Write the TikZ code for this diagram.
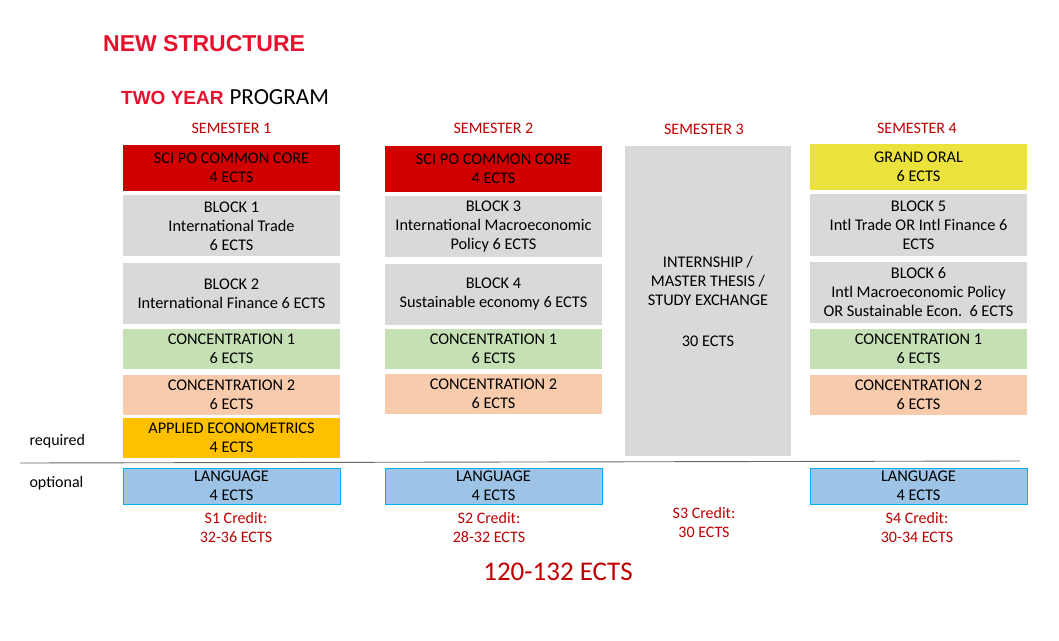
\documentclass[tikz,border=0pt]{standalone}
\usepackage{fontspec}
\setmainfont{Carlito}
\newfontfamily\titelfont{Liberation Sans}
\usetikzlibrary{positioning}
\definecolor{titelrot}{HTML}{E8112D}
\definecolor{semrot}{HTML}{C00000}
\definecolor{kernrot}{HTML}{D00000}
\definecolor{blockgrau}{HTML}{D9D9D9}
\definecolor{konzgruen}{HTML}{C5E0B4}
\definecolor{konzorange}{HTML}{F8CBAD}
\definecolor{oekogelb}{HTML}{FFC000}
\definecolor{oralgelb}{HTML}{EBE33B}
\definecolor{sprachblau}{HTML}{9DC3E6}
\definecolor{sprachrand}{HTML}{00B0F0}
\tikzset{
  kurs/.style={
    rectangle, minimum width=217pt, inner sep=1pt, align=center,
    font=\fontsize{16.3}{19}\selectfont, text=black},
  kern/.style={kurs, fill=kernrot, minimum height=46pt},
  block/.style={kurs, fill=blockgrau, minimum height=61pt},
  konz/.style={kurs, fill=konzgruen, minimum height=40pt},
  konzb/.style={kurs, fill=konzorange, minimum height=40pt},
  sprache/.style={kurs, fill=sprachblau, draw=sprachrand, line width=0.9pt,
    minimum height=36pt},
  semester/.style={font=\fontsize{16}{18}\selectfont, text=semrot},
  kredit/.style={font=\fontsize{16}{19}\selectfont, text=semrot, align=center},
  seite/.style={font=\fontsize{16}{19}\selectfont, anchor=west}
}

\begin{document}
\begin{tikzpicture}[x=1pt, y=-1pt]
\useasboundingbox (0,0) rectangle (1059,640);

% titles
\node[anchor=west, inner sep=0pt, text=titelrot,
      font=\titelfont\bfseries\fontsize{23}{26}\selectfont] (titel) at (103,44)
      {NEW STRUCTURE};
\node[anchor=west, inner sep=0pt] (prog) at (121,97)
      {{\titelfont\bfseries\fontsize{19}{22}\selectfont\textcolor{titelrot}{TWO YEAR}}%
       \hspace{6pt}{\normalfont\fontsize{23}{26}\selectfont PROGRAM}};

% semester headings
\node[semester] (sem1) at (231.5,128) {SEMESTER 1};
\node[semester] (sem2) at (493.5,128) {SEMESTER 2};
\node[semester] (sem3) at (704,129)   {SEMESTER 3};
\node[semester] (sem4) at (917,128)   {SEMESTER 4};

% semester 1
\node[kern] (kern1) at (231.5,168) {SCI PO COMMON CORE\\4 ECTS};
\node[block, below=4pt of kern1] (block1) {BLOCK 1\\International Trade\\6 ECTS};
\node[block, below=6pt of block1] (block2) {BLOCK 2\\International Finance 6 ECTS};
\node[konz, below=5pt of block2] (konzA1) {CONCENTRATION 1\\6 ECTS};
\node[konzb, below=5pt of konzA1] (konzB1) {CONCENTRATION 2\\6 ECTS};
\node[kurs, fill=oekogelb, minimum height=40pt, below=3pt of konzB1] (oeko)
      {APPLIED ECONOMETRICS\\4 ECTS};
\node[sprache] (sprache1) at (231.5,486) {LANGUAGE\\4 ECTS};

% semester 2
\node[kern] (kern2) at (493.5,169) {SCI PO COMMON CORE\\4 ECTS};
\node[block, below=4pt of kern2] (block3)
      {BLOCK 3\\International Macroeconomic\\Policy 6 ECTS};
\node[block, below=6pt of block3] (block4) {BLOCK 4\\Sustainable economy 6 ECTS};
\node[konz, below=4pt of block4] (konzA2) {CONCENTRATION 1\\6 ECTS};
\node[konzb, below=4pt of konzA2] (konzB2) {CONCENTRATION 2\\6 ECTS};
\node[sprache] (sprache2) at (493.5,486) {LANGUAGE\\4 ECTS};

% semester 3
\node[kurs, fill=blockgrau, minimum width=166pt, minimum height=310pt] (praktikum)
      at (708,301) {INTERNSHIP /\\MASTER THESIS /\\STUDY EXCHANGE\\[22pt]30 ECTS};

% semester 4
\node[kurs, fill=oralgelb, minimum height=46pt] (oral) at (918.5,167)
      {GRAND ORAL\\6 ECTS};
\node[block, minimum height=62pt, below=4pt of oral] (block5)
      {BLOCK 5\\Intl Trade OR Intl Finance 6\\ECTS};
\node[block, below=5pt of block5] (block6)
      {BLOCK 6\\Intl Macroeconomic Policy\\OR Sustainable Econ.\ \ 6 ECTS};
\node[konz, below=6pt of block6] (konzA4) {CONCENTRATION 1\\6 ECTS};
\node[konzb, below=5pt of konzA4] (konzB4) {CONCENTRATION 2\\6 ECTS};
\node[sprache] (sprache4) at (918.5,486) {LANGUAGE\\4 ECTS};

% required / optional
\coordinate (trennL) at (20,463);
\coordinate (trennR) at (1020,461);
\draw[gray!80!black, line width=0.9pt] (trennL) -- (trennR);
\node[seite] (pflicht) at (26,441) {required};
\node[seite] (wahl) at (26,483) {optional};

% credits
\node[kredit] (kredit1) at (236,527.5) {S1 Credit:\\32-36 ECTS};
\node[kredit] (kredit2) at (489,527.5) {S2 Credit:\\28-32 ECTS};
\node[kredit] (kredit3) at (704,522.5) {S3 Credit:\\30 ECTS};
\node[kredit] (kredit4) at (917,527.5) {S4 Credit:\\30-34 ECTS};
\node[text=semrot, font=\fontsize{27}{30}\selectfont] (gesamt) at (558,572)
      {120-132 ECTS};

\end{tikzpicture}
\end{document}
